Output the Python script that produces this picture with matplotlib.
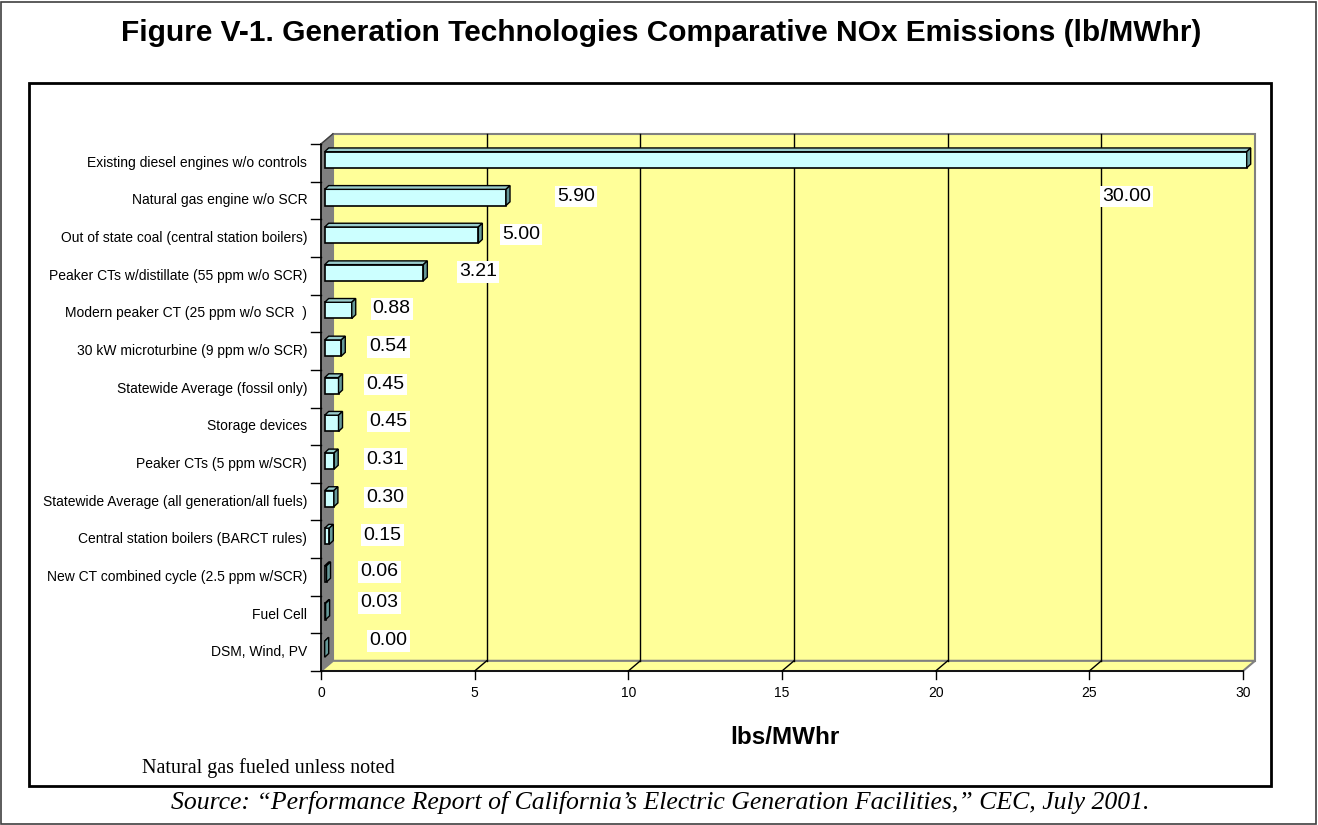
import matplotlib
matplotlib.use("Agg")
import matplotlib.pyplot as plt
from matplotlib.patches import Polygon, Rectangle

plt.rcParams['font.family'] = ['Liberation Sans', 'DejaVu Sans']

categories = [
    "Existing diesel engines w/o controls",
    "Natural gas engine w/o SCR",
    "Out of state coal (central station boilers)",
    "Peaker CTs w/distillate (55 ppm w/o SCR)",
    "Modern peaker CT (25 ppm w/o SCR  )",
    "30 kW microturbine (9 ppm w/o SCR)",
    "Statewide Average (fossil only)",
    "Storage devices",
    "Peaker CTs (5 ppm w/SCR)",
    "Statewide Average (all generation/all fuels)",
    "Central station boilers (BARCT rules)",
    "New CT combined cycle (2.5 ppm w/SCR)",
    "Fuel Cell",
    "DSM, Wind, PV",
]
values = [30.00, 5.90, 5.00, 3.21, 0.88, 0.54, 0.45, 0.45, 0.31, 0.30, 0.15, 0.06, 0.03, 0.00]
x_ticks = [0, 5, 10, 15, 20, 25, 30]

# where Excel dropped the value labels (x in lbs/MWhr, y in category rows)
label_pos = [(26.2, 12.6), (8.3, 12.6), (6.5, 11.6), (5.1, 10.6), (2.3, 9.62),
             (2.2, 8.61), (2.1, 7.62), (2.2, 6.62), (2.1, 5.63), (2.1, 4.6),
             (2.0, 3.61), (1.9, 2.63), (1.9, 1.81), (2.2, 0.8)]

W, H = 1318, 825
fig = plt.figure(figsize=(W / 100, H / 100), dpi=100)
fig.patch.set_facecolor("white")

# figure-level frames
fig.patches.append(Rectangle((1 / W, 1 / H), (W - 3) / W, (H - 3) / H, transform=fig.transFigure,
                             fill=False, ec="#404040", lw=1.2))
fig.patches.append(Rectangle((29 / W, (H - 786) / H), (1271 - 29) / W, (786 - 83) / H,
                             transform=fig.transFigure, fill=False, ec="black", lw=2))

# front plane of the pseudo-3D plot
x0, x1, ytop, ybot = 321, 1243, 144, 671
ax = fig.add_axes([x0 / W, (H - ybot) / H, (x1 - x0) / W, (ybot - ytop) / H])
n = len(categories)
xmax = 30
ax.set_xlim(0, xmax)
ax.set_ylim(0, n)
ax.axis("off")

DX, DY = 0.39, 0.27  # depth of walls
wall_c = "#FFFF99"
gray = "#808080"

# back wall, side wall, floor
ax.add_patch(Rectangle((DX, DY), xmax, n, fc=wall_c, ec=gray, lw=1.5, clip_on=False, zorder=1))
ax.add_patch(Polygon([(0, 0), (DX, DY), (DX, n + DY), (0, n)], closed=True, fc=gray, ec=gray,
                     lw=1, clip_on=False, zorder=2))
ax.add_patch(Polygon([(0, 0), (xmax, 0), (xmax + DX, DY), (DX, DY)], closed=True, fc=wall_c,
                     ec=gray, lw=1.5, clip_on=False, zorder=2))

# gridlines
for t in x_ticks[1:-1]:
    ax.plot([t + DX, t + DX], [DY, n + DY], color="black", lw=1, zorder=2, clip_on=False)
    ax.plot([t, t + DX], [0, DY], color="black", lw=1, zorder=3, clip_on=False)

# axes lines and ticks
ax.plot([0, xmax], [0, 0], color="black", lw=1.2, zorder=4, clip_on=False)
ax.plot([0, 0], [0, n], color="black", lw=1.2, zorder=4, clip_on=False)
ax.plot([0, DX], [n, n + DY], color="#404040", lw=1, zorder=4, clip_on=False)
for t in x_ticks:
    ax.plot([t, t], [0, -0.2], color="black", lw=1, zorder=4, clip_on=False)
    ax.text(t, -0.4, str(t), ha="center", va="top", fontsize=10)
for k in range(n + 1):
    ax.plot([0, -0.33], [k, k], color="black", lw=1, zorder=4, clip_on=False)

# 3D bars
bx, by = 0.12, 0.08
ddx, ddy = 0.13, 0.1
h = 0.43
for i, (cat, v) in enumerate(zip(categories, values)):
    yc = n - i - 0.5
    b, t = yc - h / 2 + by, yc + h / 2 + by
    ax.add_patch(Polygon([(bx, b), (bx + v, b), (bx + v, t), (bx, t)], closed=True,
                         fc="#CCFFFF", ec="black", lw=1.2, zorder=5, clip_on=False))
    ax.add_patch(Polygon([(bx, t), (bx + v, t), (bx + v + ddx, t + ddy), (bx + ddx, t + ddy)],
                         closed=True, fc="#99CCCC", ec="black", lw=1, zorder=5, clip_on=False))
    ax.add_patch(Polygon([(bx + v, b), (bx + v + ddx, b + ddy), (bx + v + ddx, t + ddy), (bx + v, t)],
                         closed=True, fc="#669999", ec="black", lw=1, zorder=5, clip_on=False))
    ax.text(-0.45, yc, cat, ha="right", va="center", fontsize=10)

for v, (lx, ly) in zip(values, label_pos):
    ax.text(lx, ly, "%.2f" % v, ha="center", va="center", fontsize=14, zorder=6,
            bbox=dict(fc="white", ec="none", pad=1.5))

fig.text(0.502, (H - 33) / H, "Figure V-1. Generation Technologies Comparative NOx Emissions (lb/MWhr)",
         ha="center", va="center", fontsize=21.5, fontweight="bold")
fig.text(785 / W, (H - 738) / H, "lbs/MWhr", ha="center", va="center", fontsize=17.5, fontweight="bold")
fig.text(142 / W, (H - 768) / H, "Natural gas fueled unless noted", ha="left", va="center",
         fontsize=14.5, family=["Liberation Serif", "DejaVu Serif"])
fig.text(660 / W, (H - 803) / H,
         "Source: \u201cPerformance Report of California\u2019s Electric Generation Facilities,\u201d CEC, July 2001.",
         ha="center", va="center", fontsize=18.5, style="italic", family=["Liberation Serif", "DejaVu Serif"])

fig.savefig("out.png", dpi=100)
